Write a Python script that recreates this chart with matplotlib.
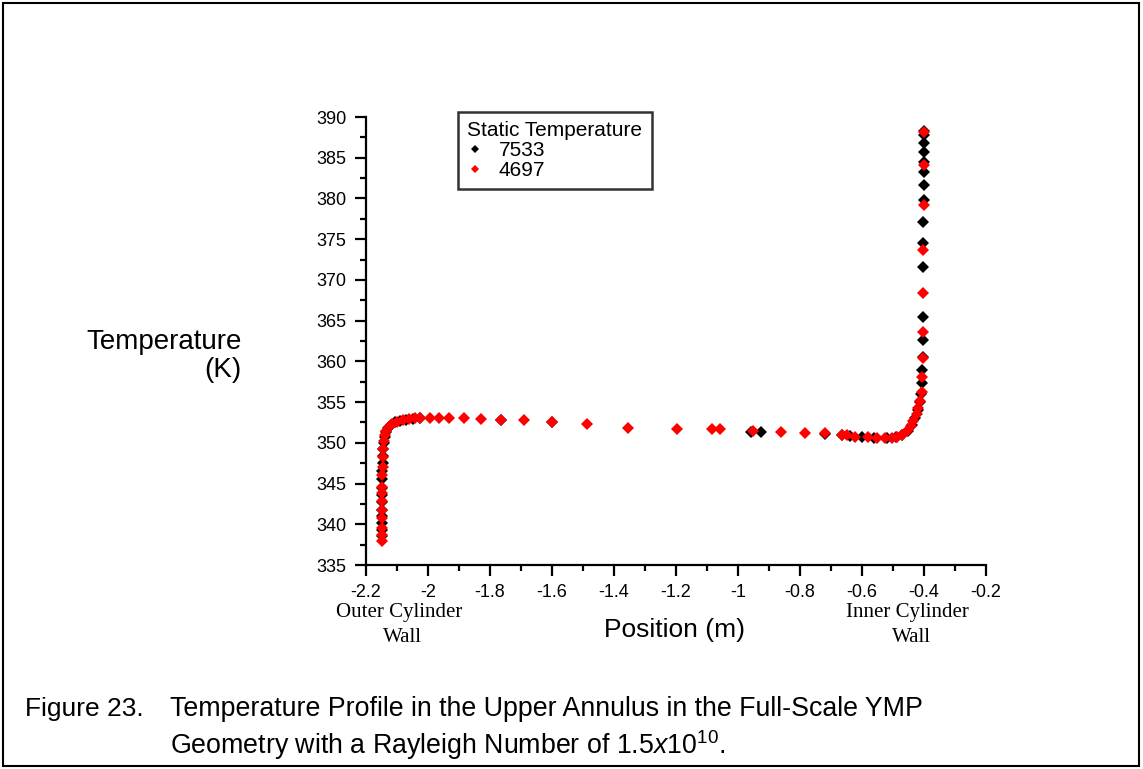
import matplotlib
matplotlib.use("Agg")
import matplotlib.pyplot as plt
from matplotlib.patches import Rectangle
from matplotlib.ticker import MultipleLocator

plt.rcParams["font.family"] = ["Liberation Sans", "DejaVu Sans"]
plt.rcParams["mathtext.fontset"] = "custom"
plt.rcParams["mathtext.rm"] = "Liberation Sans"
plt.rcParams["mathtext.it"] = "Liberation Sans:italic"

# ------------------------------------------------------------
# Data (position in m, temperature in K)
# ------------------------------------------------------------
x_7533 = [-2.150, -2.150, -2.150, -2.150, -2.149, -2.149, -2.148, -2.148,
          -2.147, -2.147, -2.146, -2.145, -2.144, -2.142, -2.139, -2.135,
          -2.128, -2.118, -2.105, -2.090, -2.072, -2.050, -2.026,
          -1.765, -1.600, -0.958, -0.926, -0.719, -0.665, -0.640,
          -0.600, -0.560, -0.520, -0.490, -0.470, -0.452, -0.440,
          -0.430, -0.420, -0.414, -0.410, -0.407, -0.405, -0.404,
          -0.403, -0.403, -0.402, -0.402, -0.402, -0.401, -0.401,
          -0.401, -0.400, -0.400, -0.400, -0.400, -0.400]
t_7533 = [338.5, 339.3, 340.2, 341.0, 341.8, 342.7, 343.6, 344.5,
          345.5, 346.5, 347.5, 348.4, 349.3, 350.0, 350.7, 351.3,
          351.8, 352.2, 352.5, 352.7, 352.8, 352.9, 353.0,
          352.8, 352.5, 351.35, 351.35, 351.1, 350.9, 350.85,
          350.7, 350.6, 350.6, 350.75, 351.0, 351.5, 352.2,
          353.0, 354.0, 355.0, 356.0, 357.3, 358.9, 360.5,
          362.6, 365.4, 371.6, 374.5, 377.1, 379.8, 381.7,
          383.3, 384.5, 385.7, 386.8, 387.8, 388.3]

x_4697 = [-2.150, -2.150, -2.150, -2.150, -2.149, -2.149, -2.148, -2.148,
          -2.147, -2.146, -2.145, -2.144, -2.142, -2.139, -2.134, -2.126,
          -2.115, -2.100, -2.082, -2.062, -2.042, -2.026,
          -1.994, -1.965, -1.932, -1.884, -1.829, -1.765, -1.690, -1.600,
          -1.487, -1.355, -1.197, -1.084, -1.058, -0.952, -0.861, -0.784,
          -0.719, -0.665, -0.650, -0.623, -0.581, -0.552, -0.526, -0.503,
          -0.487, -0.471, -0.455, -0.442, -0.436, -0.423, -0.419, -0.413,
          -0.408, -0.405, -0.404, -0.403, -0.402, -0.402, -0.401, -0.401,
          -0.400]
t_4697 = [338.0, 338.7, 339.5, 340.8, 341.8, 342.8, 343.8, 344.6,
          346.0, 347.0, 348.3, 349.3, 350.2, 350.9, 351.5, 351.9,
          352.3, 352.6, 352.8, 352.9, 353.0, 353.05,
          353.05, 353.05, 353.0, 353.0, 352.95, 352.85, 352.75, 352.6,
          352.3, 351.85, 351.65, 351.65, 351.65, 351.5, 351.3, 351.25,
          351.15, 350.95, 350.9, 350.75, 350.7, 350.6, 350.55, 350.6,
          350.75, 351.0, 351.5, 352.1, 352.7, 353.5, 354.3, 355.1,
          356.2, 358.1, 360.4, 363.6, 368.4, 373.7, 379.2, 384.1,
          388.2]

x_ticks = [-2.2, -2.0, -1.8, -1.6, -1.4, -1.2, -1.0, -0.8, -0.6, -0.4, -0.2]
x_tick_labels = ["-2.2", "-2", "-1.8", "-1.6", "-1.4", "-1.2", "-1",
                 "-0.8", "-0.6", "-0.4", "-0.2"]
y_ticks = [335, 340, 345, 350, 355, 360, 365, 370, 375, 380, 385, 390]

# ------------------------------------------------------------
# Figure
# ------------------------------------------------------------
fig = plt.figure(figsize=(11.43, 7.69), dpi=100)
ax = fig.add_axes([366 / 1143, 1 - 565 / 769, 620 / 1143, 448 / 769])

ax.plot(x_7533, t_7533, "D", color="black", ms=6.5, mew=0, label="7533")
ax.plot(x_4697, t_4697, "D", color="#ff0000", ms=6.5, mew=0, label="4697")

ax.set_xlim(-2.2, -0.2)
ax.set_ylim(335, 390)
ax.set_xticks(x_ticks)
ax.set_xticklabels(x_tick_labels)
ax.set_yticks(y_ticks)
ax.xaxis.set_minor_locator(MultipleLocator(0.1))
ax.yaxis.set_minor_locator(MultipleLocator(2.5))
for s in ("top", "right"):
    ax.spines[s].set_visible(False)
for s in ("left", "bottom"):
    ax.spines[s].set_linewidth(1.6)
ax.tick_params(which="major", direction="out", length=8, width=1.6,
               labelsize=13, pad=6)
ax.tick_params(which="minor", direction="out", length=4, width=1.6)

leg = ax.legend(title="Static Temperature", loc="upper left",
                bbox_to_anchor=(0.148, 1.012), borderaxespad=0,
                fontsize=15, title_fontsize=15, frameon=True, fancybox=False,
                handletextpad=0.7, handlelength=0.8, labelspacing=0.05,
                borderpad=0.45, markerscale=0.65)
leg._legend_box.align = "left"
leg.get_frame().set_edgecolor("black")
leg.get_frame().set_linewidth(1.8)

# axis titles
fig.text(242 / 1143, 1 - 342 / 769, "Temperature", fontsize=20,
         ha="right", va="center")
fig.text(242 / 1143, 1 - 370 / 769, "(K)", fontsize=20,
         ha="right", va="center")
fig.text(674 / 1143, 1 - 630 / 769, "Position (m)", fontsize=19,
         ha="center", va="center")

serif = ["Liberation Serif", "DejaVu Serif"]
fig.text(399 / 1143, 1 - 613 / 769, "Outer Cylinder", fontsize=15,
         family=serif, ha="center", va="center")
fig.text(402 / 1143, 1 - 637 / 769, "Wall", fontsize=15,
         family=serif, ha="center", va="center")
fig.text(907 / 1143, 1 - 613 / 769, "Inner Cylinder", fontsize=15,
         family=serif, ha="center", va="center")
fig.text(911 / 1143, 1 - 637 / 769, "Wall", fontsize=15,
         family=serif, ha="center", va="center")

# caption
fig.text(25 / 1143, 1 - 709 / 769, "Figure 23.", fontsize=19,
         ha="left", va="center")
fig.text(170 / 1143, 1 - 709 / 769,
         "Temperature Profile in the Upper Annulus in the Full-Scale YMP",
         fontsize=19.3, ha="left", va="center")
fig.text(170 / 1143, 1 - 745 / 769,
         r"Geometry with a Rayleigh Number of 1.5$\mathit{x}$10$^{10}$.",
         fontsize=19.3, ha="left", va="center")

# outer border
fig.patches.append(Rectangle((3 / 1143, 3 / 769), 1136 / 1143, 763 / 769,
                             transform=fig.transFigure, fill=False,
                             edgecolor="black", linewidth=1.5))

fig.savefig("out.png", dpi=100)
